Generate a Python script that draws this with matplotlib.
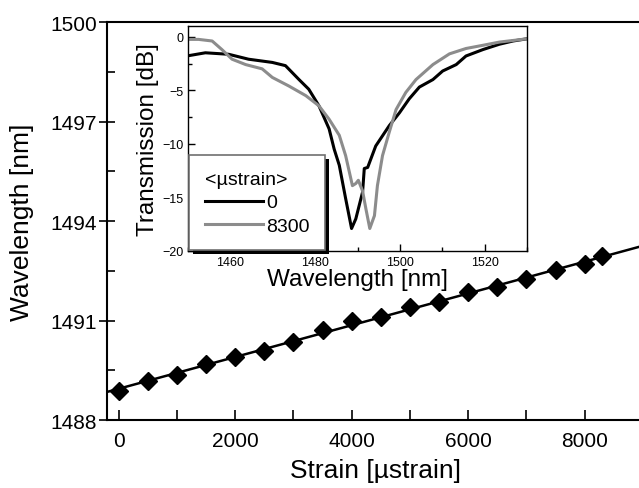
import matplotlib
matplotlib.use("Agg")
import matplotlib.pyplot as plt
import matplotlib.patheffects as pe
import numpy as np
from matplotlib.ticker import MultipleLocator

plt.rcParams['font.family'] = ['Liberation Sans', 'DejaVu Sans']

# strain sweep: peak wavelength vs applied strain
strain = [0, 500, 1000, 1500, 2000, 2500, 3000, 3500, 4000, 4500,
          5000, 5500, 6000, 6500, 7000, 7500, 8000, 8300]
peak_nm = [1488.86, 1489.19, 1489.37, 1489.69, 1489.91, 1490.09, 1490.35, 1490.70, 1491.00,
           1491.12, 1491.40, 1491.55, 1491.86, 1492.02, 1492.24, 1492.51, 1492.69, 1492.95]

# transmission spectra, 0 ustrain
wl_0 = [1449.7, 1454.1, 1459.6, 1464.3, 1469.9, 1473.0, 1476.2, 1478.5, 1480.9, 1483.3,
        1484.5, 1485.7, 1487.2, 1488.6, 1489.6, 1491.2, 1491.6, 1492.4, 1494.3, 1497.5,
        1499.9, 1502.2, 1504.6, 1507.8, 1510.1, 1513.3, 1515.6, 1519.6, 1523.5, 1526.7, 1529.9]
tr_0 = [-1.8, -1.5, -1.64, -2.1, -2.4, -2.7, -4.0, -4.9, -6.45, -8.6,
        -10.5, -12.0, -15.1, -17.9, -17.0, -14.5, -12.3, -12.2, -10.2, -8.3,
        -7.1, -5.8, -4.7, -4.0, -3.2, -2.6, -1.8, -1.2, -0.7, -0.4, -0.2]

# transmission spectra, 8300 ustrain
wl_8300 = [1449.7, 1452.5, 1455.7, 1458.0, 1460.4, 1463.6, 1467.5, 1469.9, 1473.8, 1477.8,
           1480.9, 1483.3, 1485.7, 1487.2, 1488.8, 1489.6, 1490.2, 1491.2, 1492.0, 1492.9,
           1494.0, 1494.7, 1495.9, 1497.5, 1499.1, 1501.4, 1503.8, 1507.8, 1511.7, 1515.6,
           1519.6, 1523.5, 1529.9]
tr_8300 = [-0.25, -0.25, -0.4, -1.2, -2.1, -2.6, -3.0, -3.8, -4.6, -5.5,
           -6.45, -7.7, -9.2, -11.1, -13.9, -13.7, -13.4, -14.4, -16.1, -17.9,
           -16.7, -13.9, -11.1, -8.9, -6.8, -5.2, -4.0, -2.6, -1.6, -1.1,
           -0.8, -0.5, -0.2]

fig = plt.figure(figsize=(6.39, 4.89), dpi=100)

# main axes (right edge runs just past the figure)
ax = fig.add_axes([107/639, 68/489, 536/639, 398/489])
fit = np.polyfit(strain, peak_nm, 1)
xfit = np.array([-200, 9000])
ax.plot(xfit, np.polyval(fit, xfit), color='k', lw=1.8, zorder=2)
ax.plot(strain, peak_nm, 'D', color='k', ms=9, zorder=3)
ax.set_xlim(-200, 9000)
ax.set_ylim(1488, 1500)
ax.xaxis.set_major_locator(MultipleLocator(2000))
ax.xaxis.set_minor_locator(MultipleLocator(1000))
ax.yaxis.set_major_locator(MultipleLocator(3))
ax.yaxis.set_minor_locator(MultipleLocator(1.5))
ax.tick_params(axis='x', which='both', direction='in', length=7, width=1.2,
               labelsize=15, pad=8)
ax.tick_params(axis='y', which='major', direction='inout', length=12, width=1.2,
               labelsize=15, pad=1)
ax.tick_params(axis='y', which='minor', direction='in', length=6, width=1.2)
for sp in ax.spines.values():
    sp.set_linewidth(1.5)
ax.set_xlabel('Strain [\u00b5strain]', fontsize=19, labelpad=6)
ax.set_ylabel('Wavelength [nm]', fontsize=19, labelpad=12)

# inset: transmission spectra
ins = fig.add_axes([188/639, 237/489, 339/639, 225/489])
ins.plot(wl_0, tr_0, color='k', lw=2.2, label='0')
ins.plot(wl_8300, tr_8300, color='#8c8c8c', lw=2.2, label='8300')
ins.set_xlim(1450, 1530)
ins.set_ylim(-20, 1)
ins.xaxis.set_major_locator(MultipleLocator(20))
ins.xaxis.set_minor_locator(MultipleLocator(10))
ins.yaxis.set_major_locator(MultipleLocator(5))
ins.yaxis.set_minor_locator(MultipleLocator(2.5))
ins.tick_params(which='major', direction='in', length=5, width=1, labelsize=9)
ins.tick_params(which='minor', direction='in', length=3, width=1)
for sp in ins.spines.values():
    sp.set_linewidth(1)
ins.set_xlabel('Wavelength [nm]', fontsize=17.5, labelpad=0)
ins.set_ylabel('Transmission [dB]', fontsize=17.5, labelpad=2)

# legend with a solid black drop shadow
leg = ins.legend(title='<\u00b5strain>', loc='lower left', bbox_to_anchor=(0.003, 0.003),
                 borderaxespad=0, fontsize=14, title_fontsize=14, handlelength=3,
                 handletextpad=0.15, fancybox=False, framealpha=1, edgecolor='#707070',
                 borderpad=0.8, labelspacing=0.3)
leg._legend_box.align = 'left'
leg.get_frame().set_linewidth(1.2)
leg.get_frame().set_path_effects([
    pe.SimplePatchShadow(offset=(3, -3), shadow_rgbFace='k', alpha=1), pe.Normal()])

fig.savefig('out.png', dpi=100)
